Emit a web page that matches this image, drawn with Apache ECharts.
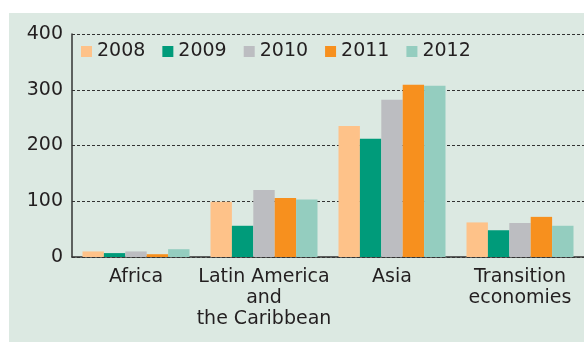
<!DOCTYPE html>
<html>
<head>
<meta charset="utf-8">
<script src="https://cdn.jsdelivr.net/npm/echarts@6/dist/echarts.min.js"></script>
<style>
html,body{margin:0;padding:0;background:#fff;}
#c{width:584px;height:342px;}
</style>
</head>
<body>
<div id="c"></div>
<script>
const categories = ['Africa', 'Latin America\nand\nthe Caribbean', 'Asia', 'Transition\neconomies'];
const years = ['2008', '2009', '2010', '2011', '2012'];
const v2008 = [10, 99, 235, 62];
const v2009 = [7, 56, 212, 48];
const v2010 = [10, 120, 282, 61];
const v2011 = [5, 106, 309, 72];
const v2012 = [14, 103, 307, 56];
const yTicks = [0, 100, 200, 300, 400];

const colors = ['#FEC289', '#009B7A', '#BCBDC1', '#F7901E', '#94CDBF'];
const seriesValues = [v2008, v2009, v2010, v2011, v2012];
const FONT = 'DejaVu Sans';
const TXT = '#231F20';

const chart = echarts.init(document.getElementById('c'), null, {renderer: 'canvas'});
chart.setOption({
  animation: false,
  backgroundColor: '#ffffff',
  graphic: [{
    type: 'rect', z: -10, silent: true,
    shape: {x: 9, y: 13, width: 575, height: 329},
    style: {fill: '#DCE9E2'}
  }],
  legend: {
    left: 81, top: 42, padding: 0,
    itemWidth: 11, itemHeight: 11, itemGap: 17,
    icon: 'rect',
    textStyle: {fontFamily: FONT, fontSize: 19, color: TXT},
    data: years
  },
  grid: {left: 72, right: 0, top: 34, bottom: 85, containLabel: false},
  xAxis: {
    type: 'category',
    data: categories,
    axisLine: {lineStyle: {color: '#333', width: 1.5}},
    axisTick: {show: false},
    axisLabel: {fontFamily: FONT, fontSize: 19, color: TXT, margin: 10, lineHeight: 21, interval: 0}
  },
  yAxis: {
    type: 'value',
    min: yTicks[0], max: yTicks[yTicks.length - 1], interval: 100,
    axisLine: {show: true, lineStyle: {color: '#333', width: 1.5}},
    axisTick: {show: false},
    axisLabel: {fontFamily: FONT, fontSize: 19, color: TXT, margin: 9},
    splitLine: {show: true, lineStyle: {color: '#333', type: [3, 2], width: 1}}
  },
  series: years.map((y, i) => ({
    name: y,
    type: 'bar',
    data: seriesValues[i],
    barWidth: 21.4,
    barGap: '0%',
    itemStyle: {color: colors[i]}
  }))
});
</script>
</body>
</html>
